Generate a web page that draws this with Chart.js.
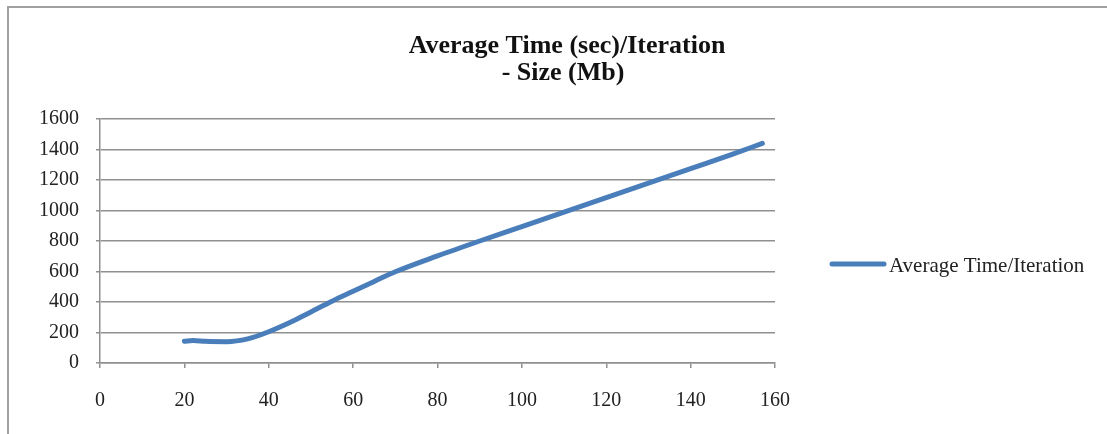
<!DOCTYPE html>
<html>
<head>
<meta charset="utf-8">
<script src="https://cdn.jsdelivr.net/npm/chart.js@4"></script>
<style>
  body { margin: 0; background: #fff; }
  #wrap { position: relative; width: 1107px; height: 434px; overflow: hidden; }
  #frame { position: absolute; left: 7px; top: 6px; width: 1200px; height: 600px; border: 2px solid #a0a0a0; }
  #myChart { position: absolute; left: 0; top: 0; }
</style>
</head>
<body>
<div id="wrap">
  <div id="frame"></div>
  <canvas id="myChart" width="1107" height="434"></canvas>
</div>
<script>
    // size (Mb) va thoi gian trung binh doc tu hinh
    const sizeMb = [20, 22, 25, 30, 35, 40, 45, 50, 55, 60, 65, 70, 80, 90, 100, 110, 120, 130, 140, 150, 157];
    const avgTime = [142, 148, 142, 140, 158, 205, 265, 335, 405, 470, 535, 598, 702, 800, 895, 990, 1085, 1180, 1275, 1370, 1440];
    const xTicks = [0, 20, 40, 60, 80, 100, 120, 140, 160];
    const yTicks = [0, 200, 400, 600, 800, 1000, 1200, 1400, 1600];
    const titleLines = ['Average Time (sec)/Iteration', '- Size (Mb)'];
    const seriesName = 'Average Time/Iteration';

    const blue = '#4a7ebb';
    const gridColor = '#909090';
    const serif = 'Liberation Serif';

    const data = {
      datasets: [{
        label: seriesName,
        data: sizeMb.map((x, i) => ({x: x, y: avgTime[i]})),
        borderColor: blue,
        backgroundColor: blue,
        borderWidth: 5,
        borderCapStyle: 'round',
        pointRadius: 0,
        cubicInterpolationMode: 'monotone'
      }]
    };

    // ve tieu de va chu thich bang tay de dat dung vi tri
    const decor = {
      id: 'decor',
      afterDraw(chart) {
        const c = chart.ctx;
        c.save();
        c.fillStyle = '#111';
        c.textAlign = 'center';
        c.textBaseline = 'alphabetic';
        c.font = 'bold 26px "' + serif + '"';
        c.fillText(titleLines[0], 567, 53);
        c.fillText(titleLines[1], 563, 80);

        c.strokeStyle = blue;
        c.lineWidth = 5;
        c.lineCap = 'round';
        c.beginPath();
        c.moveTo(832, 264);
        c.lineTo(884, 264);
        c.stroke();

        c.fillStyle = '#222';
        c.textAlign = 'left';
        c.textBaseline = 'middle';
        c.font = '21px "' + serif + '"';
        c.fillText(chart.data.datasets[0].label, 889, 266);
        c.restore();
      }
    };

    const config = {
      type: 'line',
      data: data,
      plugins: [decor],
      options: {
        responsive: false,
        animation: false,
        layout: { padding: { top: 119, right: 332, left: 0, bottom: 0 } },
        plugins: { legend: { display: false }, title: { display: false }, tooltip: { enabled: false } },
        scales: {
          x: {
            type: 'linear',
            min: 0,
            max: 160,
            afterFit: s => { s.height = 71; },
            afterBuildTicks: s => { s.ticks = xTicks.map(v => ({value: v})); },
            border: { color: gridColor, width: 1.5 },
            grid: { drawOnChartArea: false, drawTicks: true, tickLength: 5, color: gridColor, lineWidth: 1.5 },
            ticks: { color: '#222', padding: 21, maxRotation: 0, font: { family: serif, size: 20 }, callback: v => String(v) }
          },
          y: {
            min: 0,
            max: 1600,
            afterFit: s => { s.width = 100; },
            afterBuildTicks: s => { s.ticks = yTicks.map(v => ({value: v})); },
            border: { color: gridColor, width: 1.5 },
            grid: { color: gridColor, lineWidth: 1.5, tickLength: 4 },
            ticks: { color: '#222', padding: 17, font: { family: serif, size: 20 }, callback: v => String(v) }
          }
        }
      }
    };

    const myChart = new Chart(
      document.getElementById('myChart'),
      config
    );
</script>
</body>
</html>
